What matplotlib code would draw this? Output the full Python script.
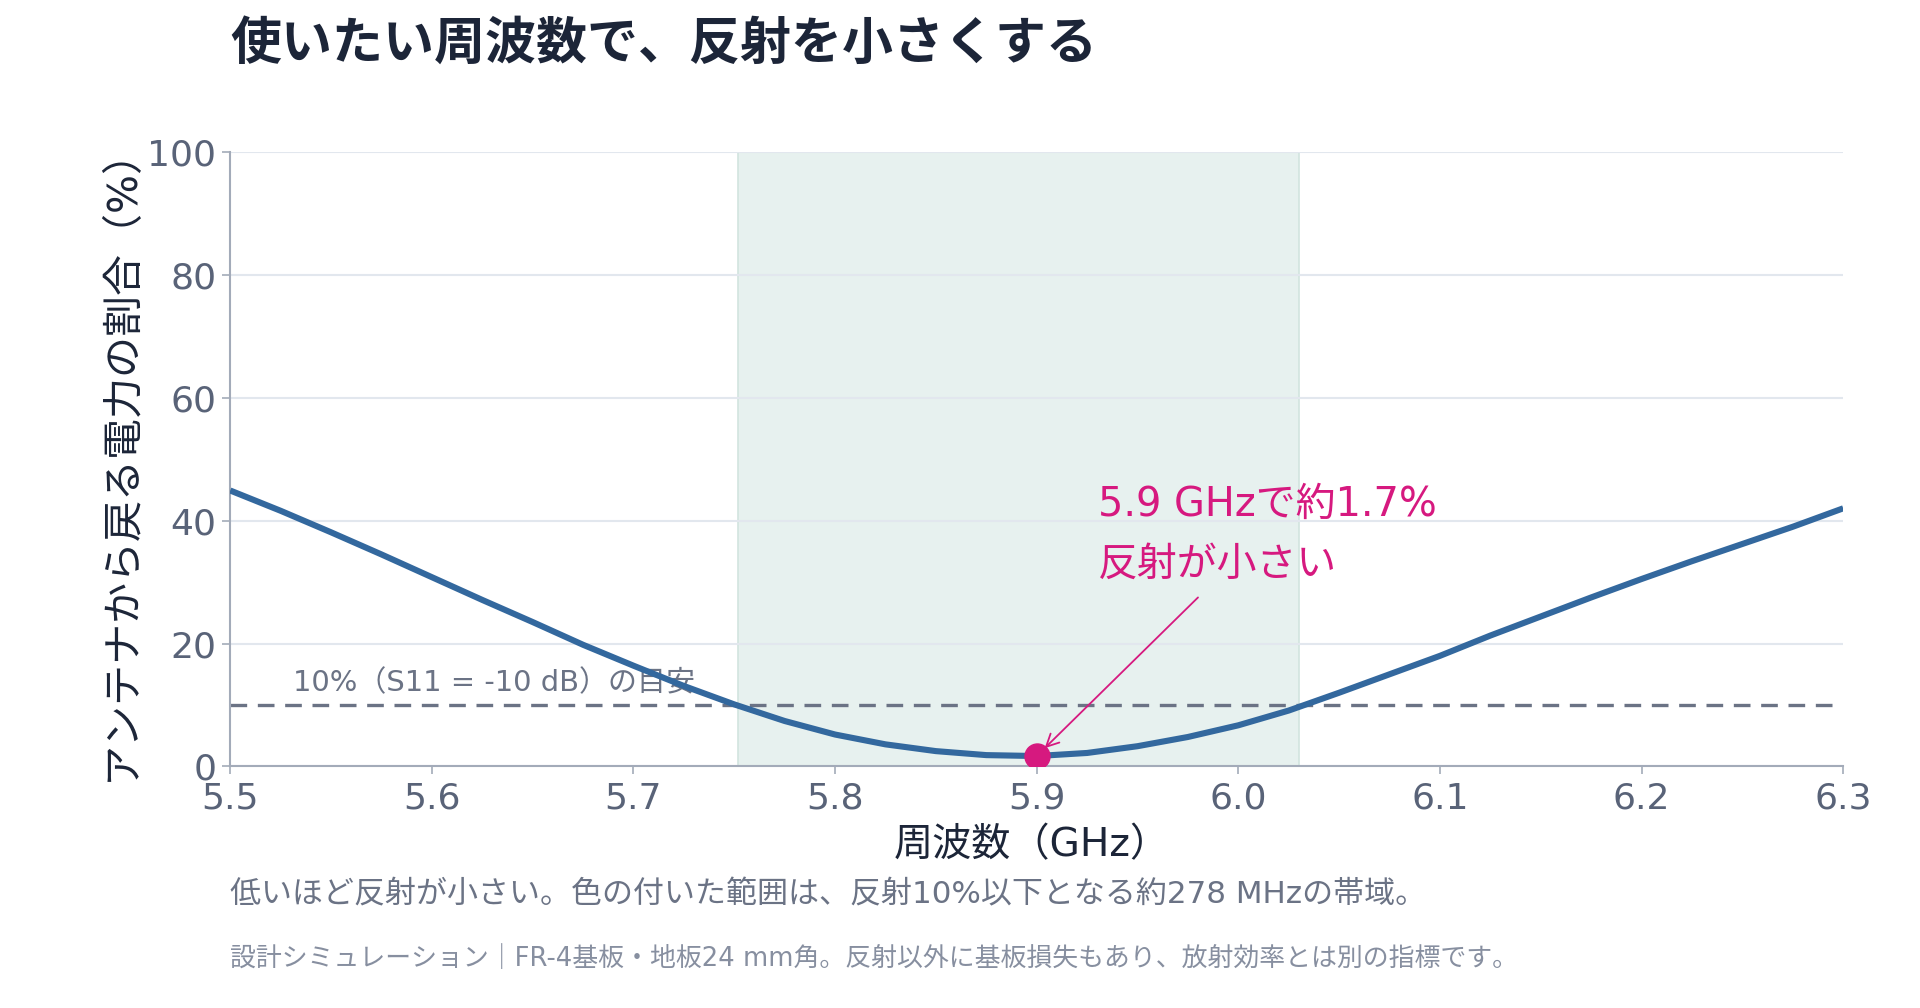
import matplotlib
matplotlib.use("Agg")
import matplotlib.pyplot as plt

# reflected power vs frequency
freq_ghz = [5.500, 5.525, 5.550, 5.575, 5.600, 5.625, 5.650, 5.675, 5.700, 5.725, 5.750,
            5.775, 5.800, 5.825, 5.850, 5.875, 5.900, 5.925, 5.950, 5.975, 6.000, 6.025,
            6.050, 6.075, 6.100, 6.125, 6.150, 6.175, 6.200, 6.225, 6.250, 6.275, 6.300]
reflect_pct = [44.9, 41.6, 38.1, 34.5, 30.8, 27.1, 23.5, 19.8, 16.4, 13.1, 10.1,
               7.4, 5.2, 3.6, 2.5, 1.85, 1.7, 2.2, 3.3, 4.8, 6.7, 9.1,
               12.0, 15.0, 18.0, 21.3, 24.4, 27.5, 30.5, 33.4, 36.2, 39.0, 42.0]

band_ghz = [5.752, 6.030]
threshold_pct = 10
best_freq = 5.9
best_pct = 1.7

x_ticks = [5.5, 5.6, 5.7, 5.8, 5.9, 6.0, 6.1, 6.2, 6.3]
y_ticks = [0, 20, 40, 60, 80, 100]

FONTS = ["DejaVu Sans", "Noto Sans CJK JP"]
plt.rcParams["font.family"] = FONTS

LINE = "#33689e"
PINK = "#d6197f"
GRID = "#e2e7ee"
AXIS = "#a3abb9"
TICK_TXT = "#596378"
DARK = "#1c2538"
GRAY = "#6b7385"

fig = plt.figure(figsize=(19.2, 10.08), dpi=100)
ax = fig.add_axes([0.1199, 0.2396, 0.8401, 0.6098])

ax.axvspan(band_ghz[0], band_ghz[1], facecolor="#e7f1ef", edgecolor="#d2e4df", linewidth=1.2, zorder=0.2)

ax.set_axisbelow(True)
ax.grid(axis="y", color=GRID, linewidth=1.5)
ax.grid(axis="x", visible=False)

ax.axhline(threshold_pct, color=GRAY, linewidth=2.4, linestyle=(0, (5, 3.2)), zorder=2)
ax.text(5.531, threshold_pct + 1.3, "10%（S11 = -10 dB）の目安", fontsize=20.9, color=GRAY,
        ha="left", va="bottom", zorder=3)

ax.plot(freq_ghz, reflect_pct, color=LINE, linewidth=4.4, solid_joinstyle="round",
        solid_capstyle="butt", zorder=4)
ax.plot([best_freq], [best_pct], "o", color=PINK, markersize=18, zorder=5)

ax.annotate("", xy=(best_freq, best_pct), xytext=(5.980, 27.5),
            arrowprops=dict(arrowstyle="->,head_length=0.9,head_width=0.45", color=PINK,
                            linewidth=1.3, shrinkA=0, shrinkB=8), zorder=6)
ax.text(5.9305, 40.8, "5.9 GHzで約1.7%", fontsize=28.7, color=PINK, ha="left", va="baseline")
ax.text(5.9305, 31.0, "反射が小さい", fontsize=28.7, color=PINK, ha="left", va="baseline")

ax.set_xlim(5.5, 6.3)
ax.set_ylim(0, 100)
ax.set_xticks(x_ticks)
ax.set_xticklabels([f"{t:.1f}" for t in x_ticks])
ax.set_yticks(y_ticks)

for side in ["top", "right"]:
    ax.spines[side].set_visible(False)
for side in ["left", "bottom"]:
    ax.spines[side].set_color(AXIS)
    ax.spines[side].set_linewidth(1.5)

ax.tick_params(axis="both", colors=AXIS, labelcolor=TICK_TXT, labelsize=26, length=6, width=1.2)
ax.tick_params(axis="x", pad=5)
ax.tick_params(axis="y", pad=4)

ax.set_xlabel("周波数（GHz）", fontsize=28.2, color=DARK)
ax.xaxis.label.set_va("center")
ax.xaxis.set_label_coords(0.497, -0.128)
ax.set_ylabel("アンテナから戻る電力の割合（%）", fontsize=29.5, color=DARK)
ax.yaxis.label.set_va("center")
ax.yaxis.set_label_coords(-0.067, 0.508)

fig.text(0.1199, 0.956, "使いたい周波数で、反射を小さくする", fontsize=36.7, fontweight="bold",
         color=DARK, ha="left", va="center")
fig.text(0.1199, 0.112, "低いほど反射が小さい。色の付いた範囲は、反射10%以下となる約278 MHzの帯域。",
         fontsize=22.3, color=GRAY, ha="left", va="center")
fig.text(0.1199, 0.0486, "設計シミュレーション｜FR-4基板・地板24 mm角。反射以外に基板損失もあり、放射効率とは別の指標です。",
         fontsize=18.65, color="#878fa0", ha="left", va="center")

fig.savefig("out.png", dpi=100, facecolor="white")
